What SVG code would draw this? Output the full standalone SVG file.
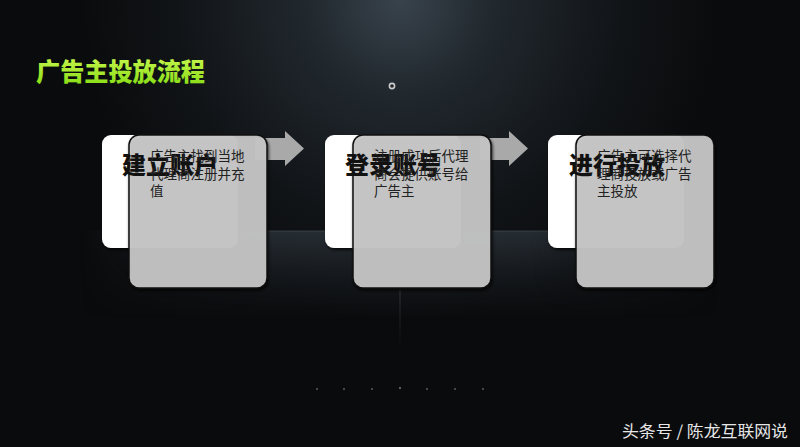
<svg xmlns="http://www.w3.org/2000/svg" width="800" height="447" viewBox="0 0 800 447">
<defs>
<radialGradient id="spot" cx="400" cy="0" r="320" gradientUnits="userSpaceOnUse">
<stop offset="0" stop-color="#39434c"/>
<stop offset="0.3" stop-color="#20272d"/>
<stop offset="0.7" stop-color="#111417"/>
<stop offset="1" stop-color="#0a0b0d"/>
</radialGradient>
<linearGradient id="floorV" x1="0" y1="231" x2="0" y2="320" gradientUnits="userSpaceOnUse">
<stop offset="0" stop-color="#2c343b" stop-opacity="0.8"/>
<stop offset="1" stop-color="#1a1f24" stop-opacity="0"/>
</linearGradient>
<linearGradient id="floorH" x1="80" y1="0" x2="720" y2="0" gradientUnits="userSpaceOnUse">
<stop offset="0" stop-color="#fff" stop-opacity="0"/>
<stop offset="0.3" stop-color="#fff" stop-opacity="1"/>
<stop offset="0.7" stop-color="#fff" stop-opacity="1"/>
<stop offset="1" stop-color="#fff" stop-opacity="0"/>
</linearGradient>
<mask id="floorMask"><rect x="0" y="0" width="800" height="447" fill="url(#floorH)"/></mask>
<linearGradient id="vline" x1="0" y1="285" x2="0" y2="350" gradientUnits="userSpaceOnUse">
<stop offset="0" stop-color="#6a747c" stop-opacity="0.4"/>
<stop offset="1" stop-color="#6a747c" stop-opacity="0"/>
</linearGradient>
<linearGradient id="titleG" x1="0" y1="58" x2="0" y2="82" gradientUnits="userSpaceOnUse">
<stop offset="0" stop-color="#c4f54a"/>
<stop offset="1" stop-color="#8fe01c"/>
</linearGradient>
<filter id="shadow" x="-20%" y="-20%" width="140%" height="140%">
<feDropShadow dx="1" dy="2" stdDeviation="1.5" flood-color="#000" flood-opacity="0.8"/>
</filter>
</defs>
<style>
.white{fill:#ffffff;filter:url(#shadow)}
.gray{fill:#cacaca;fill-opacity:0.9;stroke:#111;stroke-width:1.5;filter:url(#shadow)}
.head{font-family:"Noto Sans CJK SC","Noto Sans",sans-serif;font-weight:900;font-size:24px;fill:#111}
.desc{font-family:"Noto Sans CJK SC","Noto Sans",sans-serif;font-size:13.5px;fill:#222}
.arrow{fill:#a9a9a9}
.dot{fill:#8a9298;opacity:0.6}
</style>
<rect x="0" y="0" width="800" height="447" fill="#0a0b0d"/>
<rect x="0" y="0" width="800" height="447" fill="url(#spot)"/>
<g mask="url(#floorMask)">
<rect x="0" y="231" width="800" height="90" fill="url(#floorV)"/>
<rect x="0" y="230.5" width="800" height="1" fill="#4a545c" opacity="0.6"/>
</g>
<rect x="399.5" y="285" width="1" height="65" fill="url(#vline)"/>
<circle cx="392" cy="86" r="2.6" fill="#222" stroke="#c8ccd0" stroke-width="1.6"/>
<g id="decor-dots">
<circle class="dot" cx="317" cy="389" r="1"/>
<circle class="dot" cx="344" cy="389" r="1"/>
<circle class="dot" cx="372" cy="389" r="1"/>
<circle class="dot" cx="400" cy="388" r="1.2"/>
<circle class="dot" cx="427" cy="389" r="1"/>
<circle class="dot" cx="455" cy="389" r="1"/>
<circle class="dot" cx="483" cy="389" r="1"/>
</g>
<text id="title" x="36" y="81" font-family="'Noto Sans CJK SC','Noto Sans',sans-serif" font-weight="900" font-size="25" fill="url(#titleG)" textLength="169" lengthAdjust="spacingAndGlyphs">广告主投放流程</text>
<g id="connectors">
<polygon class="arrow" points="255,138 285,138 285,131 304,148.5 285,166 285,160 255,160"/>
<polygon class="arrow" points="480,138 509,138 509,131 528,148.5 509,166 509,160 480,160"/>
</g>
<g id="node1">
<rect class="white" x="102" y="135" width="136" height="113" rx="9"/>
<rect class="gray" x="129" y="135" width="138" height="153" rx="10"/>
<text class="head" x="122" y="174">建立账户</text>
<text class="desc" x="150" y="161">广告主找到当地</text>
<text class="desc" x="150" y="178.5">代理商注册并充</text>
<text class="desc" x="150" y="196">值</text>
</g>
<g id="node2">
<rect class="white" x="325" y="135" width="136" height="113" rx="9"/>
<rect class="gray" x="353" y="135" width="138" height="153" rx="10"/>
<text class="head" x="345" y="174">登录账号</text>
<text class="desc" x="374" y="161">注册成功后代理</text>
<text class="desc" x="374" y="178.5">商会提供账号给</text>
<text class="desc" x="374" y="196">广告主</text>
</g>
<g id="node3">
<rect class="white" x="548" y="135" width="136" height="113" rx="9"/>
<rect class="gray" x="576" y="135" width="138" height="153" rx="10"/>
<text class="head" x="569" y="174">进行投放</text>
<text class="desc" x="597" y="161">广告主可选择代</text>
<text class="desc" x="597" y="178.5">理商投放或广告</text>
<text class="desc" x="597" y="196">主投放</text>
</g>
<text id="watermark" x="622" y="437" font-family="'Noto Sans CJK SC','Noto Sans',sans-serif" font-size="16" fill="#e6e6e6" textLength="166" lengthAdjust="spacingAndGlyphs">头条号 / 陈龙互联网说</text>
</svg>
